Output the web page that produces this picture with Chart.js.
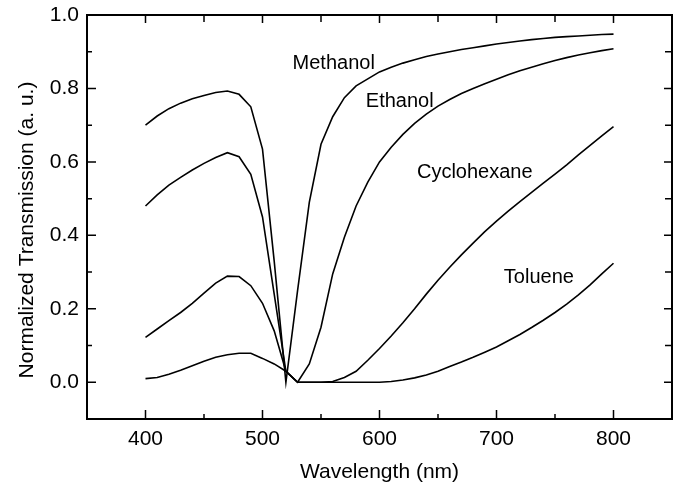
<!DOCTYPE html>
<html>
<head>
<meta charset="utf-8">
<script src="https://cdn.jsdelivr.net/npm/chart.js@4/dist/chart.umd.min.js"></script>
<style>
  html, body { margin: 0; padding: 0; background: #fff; }
  #wrap { width: 676px; height: 491px; }
</style>
</head>
<body>
<div id="wrap"><canvas id="chart-area"></canvas></div>
<script>
// wavelength grid (nm)
var wavelengths = [400, 410, 420, 430, 440, 450, 460, 470, 480, 490,
                   500, 510, 520, 530, 540, 550, 560, 570, 580, 590,
                   600, 610, 620, 630, 640, 650, 660, 670, 680, 690,
                   700, 710, 720, 730, 740, 750, 760, 770, 780, 790, 800];

var methanol = [0.700, 0.725, 0.745, 0.760, 0.772, 0.781, 0.789, 0.793, 0.784, 0.750,
                0.635, 0.330, 0.000, 0.250, 0.490, 0.648, 0.723, 0.775, 0.807, 0.826,
                0.845, 0.858, 0.869, 0.878, 0.887, 0.894, 0.900, 0.906, 0.911, 0.916,
                0.921, 0.925, 0.929, 0.933, 0.936, 0.939, 0.941, 0.943, 0.945, 0.947, 0.948];

var ethanol = [0.480, 0.510, 0.537, 0.558, 0.578, 0.596, 0.612, 0.625, 0.614, 0.566,
               0.450, 0.240, 0.030, 0.000, 0.050, 0.150, 0.295, 0.395, 0.480, 0.545,
               0.600, 0.640, 0.675, 0.705, 0.730, 0.752, 0.770, 0.786, 0.800, 0.813,
               0.825, 0.837, 0.848, 0.858, 0.867, 0.876, 0.884, 0.891, 0.897, 0.903, 0.908];

var cyclohexane = [0.122, 0.145, 0.168, 0.190, 0.215, 0.243, 0.270, 0.289, 0.288, 0.263,
                   0.215, 0.140, 0.030, 0.000, 0.000, 0.000, 0.002, 0.013, 0.030, 0.060,
                   0.092, 0.126, 0.162, 0.200, 0.240, 0.278, 0.313, 0.347, 0.379, 0.410,
                   0.439, 0.466, 0.492, 0.517, 0.542, 0.567, 0.592, 0.619, 0.645, 0.671, 0.696];

var toluene = [0.010, 0.013, 0.022, 0.033, 0.045, 0.057, 0.068, 0.075, 0.079, 0.079,
               0.065, 0.050, 0.030, 0.000, 0.000, 0.000, 0.000, 0.000, 0.000, 0.000,
               0.000, 0.002, 0.006, 0.012, 0.020, 0.030, 0.043, 0.055, 0.068, 0.082,
               0.096, 0.113, 0.130, 0.149, 0.169, 0.190, 0.213, 0.238, 0.265, 0.295, 0.324];

var seriesNames = ["Methanol", "Ethanol", "Cyclohexane", "Toluene"];
var xTicks = [400, 500, 600, 700, 800];
var yTicks = [0.0, 0.2, 0.4, 0.6, 0.8, 1.0];

var FONT = "'Liberation Sans', Arial, Helvetica, sans-serif";

function toPoints(values) {
    return values.map(function (v, i) { return { x: wavelengths[i], y: v }; });
}

function minorOf(ticks, lo, hi) {
    var step = ticks[1] - ticks[0];
    var out = [];
    for (var v = ticks[0] - step / 2; v <= hi + 1e-9; v += step) {
        if (v >= lo - 1e-9) out.push(+v.toFixed(6));
    }
    return out;
}

// frame, inward ticks, curve labels, y title
var framePlugin = {
    id: 'frame',
    afterDraw: function (chart) {
        var ctx = chart.ctx, a = chart.chartArea;
        var xs = chart.scales.x, ys = chart.scales.y;
        ctx.save();
        ctx.strokeStyle = '#000';
        ctx.lineWidth = 2;
        ctx.strokeRect(a.left, a.top, a.right - a.left, a.bottom - a.top);

        ctx.lineWidth = 1.5;
        ctx.beginPath();
        xTicks.forEach(function (t) {
            var p = xs.getPixelForValue(t);
            ctx.moveTo(p, a.bottom); ctx.lineTo(p, a.bottom - 9);
            ctx.moveTo(p, a.top); ctx.lineTo(p, a.top + 8);
        });
        minorOf(xTicks, xs.min, xs.max).forEach(function (t) {
            if (t <= xs.min || t >= xs.max) return;
            var p = xs.getPixelForValue(t);
            ctx.moveTo(p, a.bottom); ctx.lineTo(p, a.bottom - 5);
            ctx.moveTo(p, a.top); ctx.lineTo(p, a.top + 7);
        });
        yTicks.forEach(function (t) {
            var p = ys.getPixelForValue(t);
            ctx.moveTo(a.left, p); ctx.lineTo(a.left + 9, p);
            ctx.moveTo(a.right, p); ctx.lineTo(a.right - 8, p);
        });
        minorOf(yTicks, ys.min, ys.max).forEach(function (t) {
            if (t <= ys.min || t >= ys.max) return;
            var p = ys.getPixelForValue(t);
            ctx.moveTo(a.left, p); ctx.lineTo(a.left + 5, p);
            ctx.moveTo(a.right, p); ctx.lineTo(a.right - 7, p);
        });
        ctx.stroke();

        // curve labels, anchored at data coordinates
        var labelAt = [[525.7, 0.853], [588.3, 0.75], [632, 0.555], [706.3, 0.27]];
        ctx.fillStyle = '#000';
        ctx.font = '20px ' + FONT;
        ctx.textAlign = 'left';
        ctx.textBaseline = 'alphabetic';
        seriesNames.forEach(function (name, i) {
            ctx.fillText(name, xs.getPixelForValue(labelAt[i][0]), ys.getPixelForValue(labelAt[i][1]));
        });

        // y axis title
        ctx.font = '21px ' + FONT;
        ctx.textAlign = 'center';
        ctx.textBaseline = 'alphabetic';
        ctx.translate(33, 230);
        ctx.rotate(-Math.PI / 2);
        ctx.fillText('Normalized Transmission (a. u.)', 0, 0);
        ctx.restore();
    }
};

var config = {
    type: 'line',
    data: {
        datasets: [methanol, ethanol, cyclohexane, toluene].map(function (vals, i) {
            return {
                label: seriesNames[i],
                data: toPoints(vals),
                borderColor: '#000',
                borderWidth: 1.6,
                pointRadius: 0,
                tension: 0,
                fill: false
            };
        })
    },
    options: {
        responsive: true,
        maintainAspectRatio: false,
        animation: false,
        layout: { padding: { top: 15, right: 4, left: 0, bottom: 0 } },
        plugins: {
            legend: { display: false },
            tooltip: { enabled: false }
        },
        scales: {
            x: {
                type: 'linear',
                min: 350,
                max: 850,
                afterBuildTicks: function (s) { s.ticks = xTicks.map(function (v) { return { value: v }; }); },
                afterFit: function (s) { s.height = 72; s.paddingLeft = 0; s.paddingRight = 0; },
                grid: { display: false, drawTicks: false },
                border: { display: false },
                ticks: {
                    padding: 8,
                    color: '#000',
                    font: { family: FONT, size: 21 },
                    maxRotation: 0,
                    callback: function (v) { return v; }
                },
                title: {
                    display: true,
                    text: 'Wavelength (nm)',
                    color: '#000',
                    font: { family: FONT, size: 21 },
                    padding: { top: 0, bottom: 6 }
                }
            },
            y: {
                type: 'linear',
                min: -0.1,
                max: 1.0,
                afterBuildTicks: function (s) { s.ticks = yTicks.map(function (v) { return { value: v }; }); },
                afterFit: function (s) { s.width = 87; s.paddingTop = 0; s.paddingBottom = 0; },
                grid: { display: false, drawTicks: false },
                border: { display: false },
                ticks: {
                    padding: 8,
                    color: '#000',
                    font: { family: FONT, size: 21 },
                    callback: function (v) { return v.toFixed(1); }
                }
            }
        }
    },
    plugins: [framePlugin]
};

window.myChart = new Chart(document.getElementById('chart-area').getContext('2d'), config);
</script>
</body>
</html>
